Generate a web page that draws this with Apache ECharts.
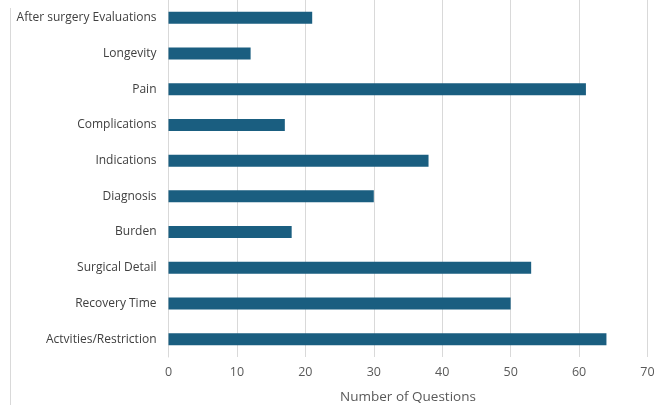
<!DOCTYPE html>
<html><head><meta charset="utf-8">
<script src="https://cdn.jsdelivr.net/npm/echarts@6/dist/echarts.min.js"></script>
<style>html,body{margin:0;padding:0;background:#fff}#c{width:668px;height:405px}</style>
</head><body><div id="c"></div>
<script>
const categories = ["After surgery Evaluations","Longevity","Pain","Complications","Indications","Diagnosis","Burden","Surgical Detail","Recovery Time","Actvities/Restriction"];
const values = [21,12,61,17,38,30,18,53,50,64];
const xTicks = {min:0,max:70,interval:10};
const xTitle = "Number of Questions";

const chart = echarts.init(document.getElementById('c'), null, {renderer:'canvas'});
chart.setOption({
  animation:false,
  textStyle:{fontFamily:'Open Sans'},
  grid:{left:168.5,right:20.5,top:0,height:357,containLabel:false,outerBoundsMode:'none'},
  xAxis:{type:'value',min:xTicks.min,max:xTicks.max,interval:xTicks.interval,
    axisLine:{show:false},axisTick:{show:false},
    splitLine:{lineStyle:{color:'#d9d9d9',width:1}},
    axisLabel:{color:'#595959',fontSize:12.5,margin:9},
    name:xTitle,nameLocation:'middle',nameGap:33,
    nameTextStyle:{color:'#595959',fontSize:13.5}},
  yAxis:{type:'category',data:categories,inverse:true,
    axisLine:{show:true,lineStyle:{color:'#d9d9d9'}},axisTick:{show:false},
    axisLabel:{color:'#404040',fontSize:12,margin:12}},
  series:[{type:'bar',data:values,barWidth:12,itemStyle:{color:'#1a5e80'}}],
  graphic:[{type:'line',shape:{x1:10.5,y1:8,x2:10.5,y2:405},style:{stroke:'#d9d9d9',lineWidth:1}}]
});
</script></body></html>
